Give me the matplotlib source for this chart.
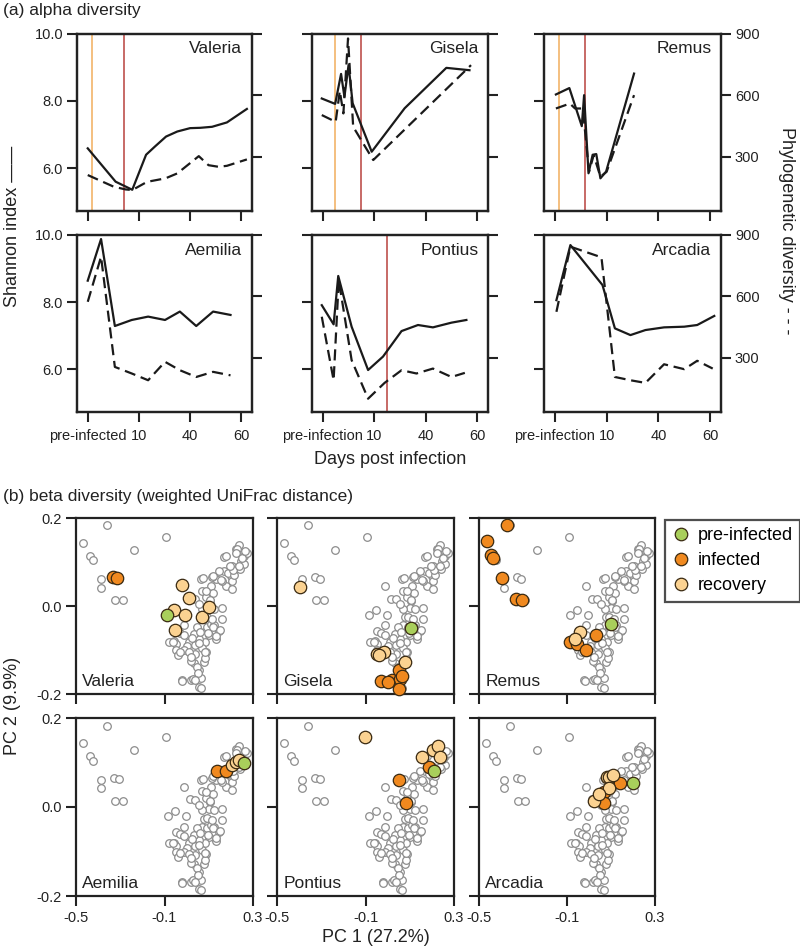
import matplotlib
matplotlib.use('Agg')
import matplotlib.pyplot as plt
from matplotlib.lines import Line2D

plt.rcParams['font.family'] = ['Liberation Sans', 'DejaVu Sans']
plt.rcParams['axes.unicode_minus'] = False

W, H = 800, 948

# ---------------- data: (a) alpha diversity ----------------
animals = ['Valeria', 'Gisela', 'Remus', 'Aemilia', 'Pontius', 'Arcadia']
time_ticks = [0, 1, 2, 3]
time_labels_first = ['pre-infected', '10', '40', '60']
time_labels_other = ['pre-infection', '10', '40', '60']
shannon_ticks = [6.0, 8.0, 10.0]
pd_ticks = [300, 600, 900]

valeria_sh_x = [0.0, 0.545, 0.87, 1.14, 1.31, 1.53, 1.75, 2.0, 2.2, 2.43, 2.72, 3.11]
valeria_sh = [6.59, 5.60, 5.36, 6.40, 6.64, 6.94, 7.09, 7.19, 7.20, 7.23, 7.36, 7.76]
valeria_pd_x = [0.0, 0.51, 0.74, 0.87, 1.16, 1.52, 1.75, 2.17, 2.36, 2.56, 2.72, 3.11]
valeria_pd = [211, 154, 141, 138, 178, 195, 219, 303, 259, 251, 256, 287]

gisela_sh_x = [-0.02, 0.24, 0.355, 0.42, 0.50, 0.58, 0.95, 1.59, 2.40, 2.85]
gisela_sh = [8.07, 7.91, 8.80, 8.12, 9.06, 7.93, 6.49, 7.78, 8.98, 8.91]
gisela_pd_x = [-0.02, 0.25, 0.33, 0.40, 0.49, 0.59, 0.98, 2.88]
gisela_pd = [503, 470, 620, 511, 876, 446, 284, 746]

remus_sh_x = [0.02, 0.28, 0.52, 0.565, 0.65, 0.73, 0.80, 0.88, 0.99, 1.53]
remus_sh = [8.19, 8.38, 7.25, 8.17, 5.85, 6.40, 6.42, 5.70, 5.90, 8.81]
remus_pd_x = [0.02, 0.29, 0.39, 0.54, 0.66, 0.75, 0.88, 1.0, 1.53]
remus_pd = [535, 559, 535, 535, 227, 308, 203, 227, 600]

aemilia_sh_x = [0.0, 0.26, 0.53, 0.86, 1.18, 1.51, 1.80, 2.12, 2.45, 2.79]
aemilia_sh = [8.64, 9.88, 7.29, 7.47, 7.57, 7.47, 7.72, 7.29, 7.72, 7.62]
aemilia_pd_x = [0.0, 0.26, 0.53, 0.86, 1.18, 1.51, 1.80, 2.12, 2.45, 2.79]
aemilia_pd = [574, 794, 256, 224, 191, 281, 240, 207, 232, 215]

pontius_sh_x = [-0.02, 0.21, 0.30, 0.56, 0.88, 1.17, 1.53, 1.85, 2.14, 2.50, 2.79]
pontius_sh = [7.91, 7.34, 8.78, 7.27, 5.98, 6.38, 7.14, 7.32, 7.25, 7.39, 7.47]
pontius_pd_x = [-0.02, 0.21, 0.31, 0.56, 0.88, 1.20, 1.53, 1.82, 2.14, 2.50, 2.76]
pontius_pd = [501, 191, 680, 289, 101, 178, 240, 224, 248, 207, 227]

arcadia_sh_x = [0.03, 0.30, 0.92, 1.16, 1.46, 1.75, 2.11, 2.50, 2.75, 3.08]
arcadia_sh = [8.06, 9.70, 8.51, 7.22, 7.02, 7.17, 7.25, 7.27, 7.32, 7.59]
arcadia_pd_x = [0.03, 0.30, 0.90, 1.16, 1.46, 1.75, 2.11, 2.50, 2.75, 3.05]
arcadia_pd = [525, 843, 791, 207, 191, 178, 269, 245, 286, 248]

# vertical marker lines (time of events)
pre_lines = {'Valeria': [0.08], 'Gisela': [0.245], 'Remus': [0.08]}
inf_lines = {'Valeria': [0.71], 'Gisela': [0.735], 'Remus': [0.58], 'Pontius': [1.24]}

# ---------------- data: (b) beta diversity ----------------
bg_pc1 = [-0.47, -0.36, -0.435, -0.423, -0.385, -0.387, -0.326, -0.307, -0.322, -0.289,
          -0.236, -0.092, -0.012, -0.085, -0.053, -0.005, 0.013, 0.037, 0.063, 0.071,
          0.108, 0.089, 0.104, 0.101, 0.161, 0.078, 0.093, 0.071, 0.093, 0.108,
          0.123, 0.146, 0.131, 0.101, 0.083, 0.055, 0.033, 0.045, -0.012, -0.050,
          -0.031, -0.012, -0.080, -0.058, -0.047, 0.010, 0.003, 0.040, 0.071, 0.089,
          0.040, -0.012, -0.035, -0.050, -0.040, 0.010, 0.078, 0.033, 0.055, -0.023,
          0.018, 0.028, 0.066, 0.055, 0.169, 0.222, 0.237, 0.229, 0.222, 0.169,
          0.199, 0.206, 0.179, 0.161, 0.131, 0.116, 0.146, 0.206, 0.244, 0.259,
          0.274, 0.259, 0.203, 0.071, 0.123, 0.055, 0.161, 0.250, 0.265, 0.240,
          0.185, 0.215, 0.120, 0.060, 0.025, 0.115, 0.085, 0.045, 0.020, 0.095,
          0.074, 0.119, 0.157, 0.209, 0.237, 0.179, 0.194, 0.089, 0.104, 0.119,
          0.149, 0.134, 0.058, 0.081, 0.021, -0.032, -0.062, 0.051, 0.036, -0.020,
          0.066]
bg_pc2 = [0.144, 0.183, 0.114, 0.104, 0.061, 0.042, 0.065, 0.062, 0.014, 0.013,
          0.127, 0.157, 0.046, -0.020, -0.009, -0.020, 0.017, 0.016, 0.061, 0.035,
          0.046, 0.020, 0.012, -0.005, -0.005, -0.026, -0.024, -0.044, -0.048, -0.041,
          -0.044, -0.056, -0.076, -0.067, -0.082, -0.074, -0.063, -0.048, -0.044, -0.056,
          -0.061, -0.065, -0.082, -0.080, -0.087, -0.082, -0.092, -0.088, -0.096, -0.105,
          -0.108, -0.101, -0.105, -0.101, -0.112, -0.105, -0.127, -0.129, -0.146, -0.169,
          -0.169, -0.165, -0.163, -0.185, 0.112, 0.130, 0.138, 0.129, 0.121, 0.080,
          0.068, 0.057, 0.046, 0.057, 0.061, 0.065, 0.080, 0.091, 0.102, 0.114,
          0.121, 0.095, 0.038, -0.007, -0.007, 0.004, -0.029, 0.108, 0.126, 0.085,
          0.075, 0.070, 0.030, -0.058, -0.072, -0.030, -0.118, -0.138, -0.125, -0.062,
          0.063, 0.069, 0.060, 0.082, 0.090, 0.114, 0.090, 0.033, 0.014, -0.047,
          -0.054, -0.069, -0.085, -0.104, -0.115, -0.104, -0.081, -0.153, -0.168, -0.170,
          -0.187]

valeria_pre = ([-0.089], [-0.021])
valeria_inf = ([-0.334, -0.316], [0.066, 0.063])
valeria_rec = ([-0.020, 0.009, -0.059, -0.009, -0.052, 0.071, 0.099],
               [0.048, 0.019, -0.009, -0.020, -0.054, -0.026, -0.003])

gisela_pre = ([0.107], [-0.049])
gisela_inf = ([-0.032, 0.018, 0.058, 0.051, 0.051, 0.000, 0.065],
              [-0.170, -0.169, -0.165, -0.146, -0.188, -0.172, -0.158])
gisela_rec = ([-0.394, -0.047, -0.017, -0.040, 0.077],
              [0.043, -0.108, -0.104, -0.112, -0.127])

remus_pre = ([0.099], [-0.042])
remus_inf = ([-0.371, -0.462, -0.444, -0.435, -0.394, -0.333, -0.303, -0.086, -0.053, -0.015, 0.030],
             [0.183, 0.147, 0.115, 0.108, 0.064, 0.016, 0.014, -0.082, -0.086, -0.099, -0.067])
remus_rec = ([-0.041, -0.065], [-0.059, -0.075])

aemilia_pre = ([0.259], [0.098])
aemilia_inf = ([0.138, 0.179], [0.082, 0.082])
aemilia_rec = ([0.206, 0.222, 0.237], [0.095, 0.102, 0.106])

pontius_pre = ([0.210], [0.081])
pontius_inf = ([0.052, 0.085, 0.187], [0.060, 0.009, 0.091])
pontius_rec = ([-0.103, 0.154, 0.207, 0.228, 0.235], [0.158, 0.113, 0.128, 0.137, 0.112])

arcadia_pre = ([0.201], [0.053])
arcadia_inf = ([0.141, 0.067, 0.067], [0.054, 0.033, 0.008])
arcadia_rec = ([0.080, 0.092, 0.108, 0.092, 0.022, 0.045], [0.068, 0.067, 0.072, 0.043, 0.014, 0.030])

pc_ticks_x = [-0.5, -0.1, 0.3]
pc_ticks_y = [-0.2, 0.0, 0.2]
state_names = ['pre-infected', 'infected', 'recovery']
state_colors = ['#a9cf5b', '#f0891f', '#fbd291']

alpha = {
    'Valeria': (valeria_sh_x, valeria_sh, valeria_pd_x, valeria_pd),
    'Gisela': (gisela_sh_x, gisela_sh, gisela_pd_x, gisela_pd),
    'Remus': (remus_sh_x, remus_sh, remus_pd_x, remus_pd),
    'Aemilia': (aemilia_sh_x, aemilia_sh, aemilia_pd_x, aemilia_pd),
    'Pontius': (pontius_sh_x, pontius_sh, pontius_pd_x, pontius_pd),
    'Arcadia': (arcadia_sh_x, arcadia_sh, arcadia_pd_x, arcadia_pd),
}
beta = {
    'Valeria': (valeria_pre, valeria_inf, valeria_rec),
    'Gisela': (gisela_pre, gisela_inf, gisela_rec),
    'Remus': (remus_pre, remus_inf, remus_rec),
    'Aemilia': (aemilia_pre, aemilia_inf, aemilia_rec),
    'Pontius': (pontius_pre, pontius_inf, pontius_rec),
    'Arcadia': (arcadia_pre, arcadia_inf, arcadia_rec),
}

# ---------------- figure ----------------
fig = plt.figure(figsize=(W / 100, H / 100), dpi=100)


def rect(x0, x1, y_top, y_bot):
    return [x0 / W, 1 - y_bot / H, (x1 - x0) / W, (y_bot - y_top) / H]


a_cols = [(77, 252), (312, 488), (544, 721)]
a_rows = [(33.5, 211), (235, 412)]
b_cols = [(76, 253), (277, 454), (479, 655)]
b_rows = [(518, 694), (718, 896)]

TICK = dict(direction='out', length=7, width=1.5, labelsize=10.5, pad=3, colors='#222222')
SPINE_LW = 1.6

for i, name in enumerate(animals):
    r, c = divmod(i, 3)
    ax = fig.add_axes(rect(a_cols[c][0], a_cols[c][1], a_rows[r][0], a_rows[r][1]))
    ax2 = ax.twinx()
    shx, sh, pdx, pdv = alpha[name]
    for xv in pre_lines.get(name, []):
        ax.axvline(xv, color='#f2b46a', lw=1.2, zorder=1)
    for xv in inf_lines.get(name, []):
        ax.axvline(xv, color='#b8413d', lw=1.1, zorder=1)
    ax.plot(shx, sh, color='#1a1a1a', lw=1.6, zorder=3)
    ax2.plot(pdx, pdv, color='#1a1a1a', lw=1.6, ls=(0, (5, 2.6)), zorder=3)
    ax.set_xlim(-0.21, 3.21)
    ax.set_ylim(4.73, 10.0)
    ax2.set_ylim(36, 900)
    ax.set_xticks(time_ticks)
    ax.set_yticks(shannon_ticks)
    ax2.set_yticks(pd_ticks)
    ax.tick_params(**TICK)
    ax2.tick_params(**TICK)
    ax.tick_params(axis='x', pad=5)
    if r == 1:
        ax.set_xticklabels(time_labels_first if c == 0 else time_labels_other)
    else:
        ax.set_xticklabels([])
    if c == 0:
        ax.set_yticklabels(['%.1f' % v for v in shannon_ticks])
    else:
        ax.set_yticklabels([])
    if c == 2:
        ax2.set_yticklabels([str(v) for v in pd_ticks])
    else:
        ax2.set_yticklabels([])
    for a in (ax, ax2):
        for s in a.spines.values():
            s.set_linewidth(SPINE_LW)
            s.set_color('#222222')
    ax.text(0.945, 0.955, name, transform=ax.transAxes, ha='right', va='top',
            fontsize=12.5, color='#222222')

fig.text(3 / W, 1 - 11 / H, '(a) alpha diversity', ha='left', va='center', fontsize=12.5, color='#222222')
fig.text(13 / W, 1 - 226 / H, 'Shannon index ——', rotation=90, ha='center', va='center',
         fontsize=13, color='#222222')
fig.text(787 / W, 1 - 231 / H, 'Phylogenetic diversity - - -', rotation=270, ha='center', va='center',
         fontsize=13, color='#222222')
fig.text(390 / W, 1 - 459 / H, 'Days post infection', ha='center', va='center', fontsize=13, color='#222222')

# (b)
for i, name in enumerate(animals):
    r, c = divmod(i, 3)
    ax = fig.add_axes(rect(b_cols[c][0], b_cols[c][1], b_rows[r][0], b_rows[r][1]))
    ax.scatter(bg_pc1, bg_pc2, s=30, facecolors='white', edgecolors='#8d8d8d', linewidths=0.9,
               zorder=2, clip_on=False)
    groups = beta[name]
    for (gx, gy), col in zip([groups[1], groups[2], groups[0]],
                             [state_colors[1], state_colors[2], state_colors[0]]):
        ax.scatter(gx, gy, s=80, c=col, edgecolors='#3a2a12', linewidths=0.9, zorder=3, clip_on=False)
    ax.set_xlim(-0.5, 0.3)
    ax.set_ylim(-0.2, 0.2)
    ax.set_xticks(pc_ticks_x)
    ax.set_yticks(pc_ticks_y)
    ax.tick_params(**TICK)
    ax.tick_params(axis='x', pad=4)
    if r == 1:
        ax.set_xticklabels(['%.1f' % v for v in pc_ticks_x])
    else:
        ax.set_xticklabels([])
    if c == 0:
        ax.set_yticklabels(['%.1f' % v for v in pc_ticks_y])
    else:
        ax.set_yticklabels([])
    for s in ax.spines.values():
        s.set_linewidth(SPINE_LW)
        s.set_color('#222222')
    ax.text(0.035, 0.03, name, transform=ax.transAxes, ha='left', va='bottom',
            fontsize=12.5, color='#222222')

handles = [Line2D([], [], ls='none', marker='o', markersize=9, markerfacecolor=col,
                  markeredgecolor='#3a2a12', markeredgewidth=0.9) for col in state_colors]
leg = fig.legend(handles, state_names, loc='upper left', bbox_to_anchor=(665 / W, 1 - 520 / H),
                 frameon=True, fancybox=False, fontsize=13, handletextpad=0.4,
                 borderpad=0.4, labelspacing=0.45, handlelength=1.0, borderaxespad=0)
leg.get_frame().set_edgecolor('#222222')
leg.get_frame().set_linewidth(1.6)

fig.text(3 / W, 1 - 497 / H, '(b) beta diversity (weighted UniFrac distance)', ha='left', va='center',
         fontsize=12.5, color='#222222')
fig.text(13 / W, 1 - 706 / H, 'PC 2 (9.9%)', rotation=90, ha='center', va='center',
         fontsize=13, color='#222222')
fig.text(376 / W, 1 - 937 / H, 'PC 1 (27.2%)', ha='center', va='center', fontsize=13, color='#222222')

fig.savefig('out.png', dpi=100)
